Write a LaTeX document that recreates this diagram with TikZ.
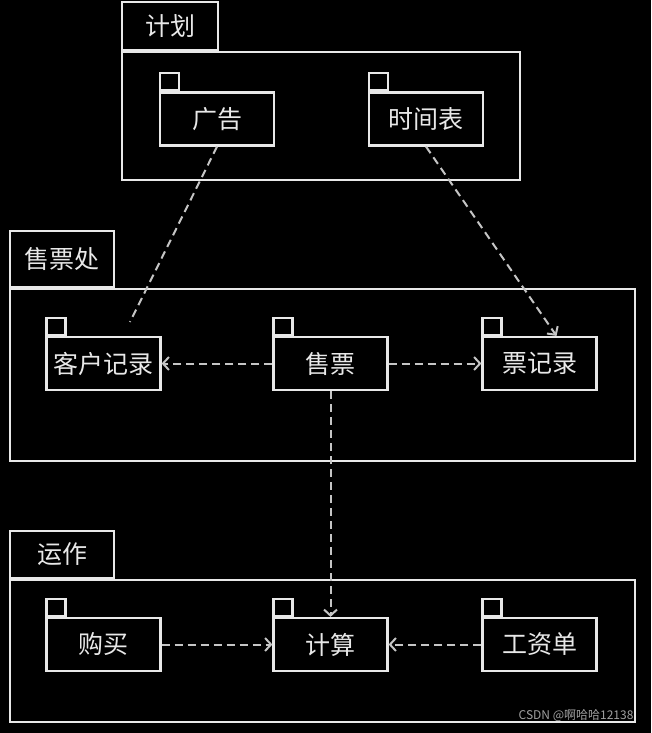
\documentclass[tikz,border=0pt]{standalone}
\usepackage{fontspec}
\newfontfamily\cjk{Noto Sans CJK SC}
\usetikzlibrary{arrows.meta, calc}
\definecolor{fg}{HTML}{E8E8E8}
\definecolor{wmgray}{HTML}{A0A0A0}
\tikzset{
  pkg/.style={draw=fg, line width=2.2pt, inner sep=0pt},
  pkgtab/.style={pkg, anchor=south west, text=fg, font=\cjk\fontsize{25}{28}\selectfont},
  sub/.style={pkg, minimum width=114, minimum height=53, text=fg, font=\cjk\fontsize{25}{28}\selectfont},
  subtab/.style={pkg, anchor=south west, minimum width=19, minimum height=17},
  dep/.style={draw=fg!85!black, line width=2pt, dash pattern=on 8pt off 5pt}
}

\begin{document}
\begin{tikzpicture}[x=1pt, y=-1pt, >={Straight Barb[length=6pt, width=13pt]}]
\fill[black] (0,0) rectangle (651,733);
\useasboundingbox (0,0) rectangle (651,733);

\node[pkg, minimum width=398, minimum height=128] at (321, 116)   (plan) {};
\node[pkgtab, minimum width=96, minimum height=48] at (plan.north west) (plantab) {计划};
\node[sub]    at (217, 119)   (ad) {广告};
\node[subtab] at (ad.north west) (adtab) {};
\node[sub]    at (426, 119)   (sched) {时间表};
\node[subtab] at (sched.north west) (schedtab) {};

\node[pkg, minimum width=625, minimum height=172] at (322.5, 375) (office) {};
\node[pkgtab, minimum width=104, minimum height=56] at (office.north west) (officetab) {售票处};
\node[sub]    at (103.5, 363.5) (cust) {客户记录};
\node[subtab] at (cust.north west) (custtab) {};
\node[sub]    at (330.5, 363.5) (sell) {售票};
\node[subtab] at (sell.north west) (selltab) {};
\node[sub]    at (539.5, 363.5) (ticket) {票记录};
\node[subtab] at (ticket.north west) (tickettab) {};

\node[pkg, minimum width=625, minimum height=142] at (322.5, 651) (ops) {};
\node[pkgtab, minimum width=104, minimum height=47] at (ops.north west) (opstab) {运作};
\node[sub]    at (103.5, 644.5) (buy) {购买};
\node[subtab] at (buy.north west) (buytab) {};
\node[sub]    at (330.5, 644.5) (calc) {计算};
\node[subtab] at (calc.north west) (calctab) {};
\node[sub]    at (539.5, 644.5) (pay) {工资单};
\node[subtab] at (pay.north west) (paytab) {};

\coordinate (custtop) at (130, 322);
\path (ad.south) edge[dep] (custtop);
\path (sched.south) edge[dep, ->] ($(ticket.north)+(17,0)$);
\path (sell.west) edge[dep, ->] (cust.east);
\path (sell.east) edge[dep, ->] (ticket.west);
\path (sell.south) edge[dep, ->] (calc.north);
\path (buy.east) edge[dep, ->] (calc.west);
\path (pay.west) edge[dep, ->] (calc.east);

\node[text=wmgray, font=\cjk\fontsize{12}{14}\selectfont, anchor=east] at (637, 716) (wm) {CSDN @啊哈哈12138};
\end{tikzpicture}
\end{document}
